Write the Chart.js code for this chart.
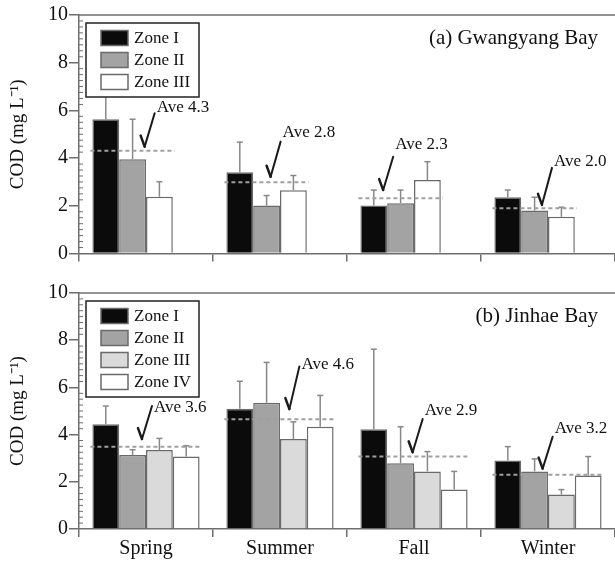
<!DOCTYPE html>
<html>
<head>
<meta charset="utf-8">
<script src="https://cdn.jsdelivr.net/npm/chart.js@4.4.1/dist/chart.umd.min.js"></script>
<style>
  body { margin: 0; background: #fff; }
  canvas { position: absolute; left: 0; }
</style>
</head>
<body>
<canvas id="chart-a" width="615" height="280" style="top:0"></canvas>
<canvas id="chart-b" width="615" height="282" style="top:280px"></canvas>
<script>
// seasons on the x axis
const seasons = ["Spring", "Summer", "Fall", "Winter"];

// (a) Gwangyang Bay - COD means and upper error (SD)
const gwang_zone1 = [5.63, 3.41, 2.01, 2.36];
const gwang_zone2 = [3.95, 2.01, 2.11, 1.80];
const gwang_zone3 = [2.38, 2.65, 3.08, 1.54];
const gwang_err1 = [0.97, 1.26, 0.65, 0.30];
const gwang_err2 = [1.68, 0.42, 0.55, 0.56];
const gwang_err3 = [0.63, 0.62, 0.77, 0.40];
const gwang_ave = [4.31, 2.99, 2.32, 1.90];
const gwang_ave_labels = ["Ave 4.3", "Ave 2.8", "Ave 2.3", "Ave 2.0"];
// check mark anchors: [offset in categories, bottom value, top value, label value]
const gwang_checks = [[-0.01, 4.48, 5.88, 6.11], [-0.07, 3.22, 4.69, 5.06], [-0.23, 2.66, 4.06, 4.55], [-0.045, 2.04, 3.59, 3.85]];

// (b) Jinhae Bay
const jinhae_zone1 = [4.44, 5.10, 4.23, 2.90];
const jinhae_zone2 = [3.14, 5.35, 2.79, 2.44];
const jinhae_zone3 = [3.35, 3.81, 2.44, 1.46];
const jinhae_zone4 = [3.07, 4.33, 1.67, 2.27];
const jinhae_err1 = [0.77, 1.16, 3.39, 0.59];
const jinhae_err2 = [0.22, 1.71, 1.54, 0.53];
const jinhae_err3 = [0.49, 0.73, 0.84, 0.21];
const jinhae_err4 = [0.46, 1.33, 0.77, 0.80];
const jinhae_ave = [3.49, 4.65, 3.07, 2.30];
const jinhae_ave_labels = ["Ave 3.6", "Ave 4.6", "Ave 2.9", "Ave 3.2"];
const jinhae_checks = [[-0.03, 3.81, 5.21, 5.13], [0.07, 5.08, 6.89, 6.97], [-0.01, 3.25, 4.66, 5.0], [-0.04, 2.56, 3.91, 4.24]];

const yTicks = [0, 2, 4, 6, 8, 10];

const serif = "'Liberation Serif', 'Times New Roman', serif";
const axisGray = "#6e6e6e";

function bar(label, data, color) {
  return {
    label: label,
    data: data,
    backgroundColor: color,
    borderColor: "#6a6a6a",
    borderWidth: 1.5,
    categoryPercentage: 0.8,
    barPercentage: 1.0,
  };
}

// error bars, average lines, legend box, check marks and panel title
const panelDecor = {
  id: "panelDecor",
  afterDatasetsDraw(chart, args, opts) {
    const ctx = chart.ctx;
    const area = chart.chartArea;
    const xs = chart.scales.x;
    const ys = chart.scales.y;
    const line = (x1, y1, x2, y2) => {
      ctx.beginPath();
      ctx.moveTo(x1, y1);
      ctx.lineTo(x2, y2);
      ctx.stroke();
    };
    ctx.save();

    // frame line on top
    ctx.strokeStyle = axisGray;
    ctx.lineWidth = 1.5;
    line(area.left, area.top, area.right, area.top);

    // minor ticks every 0.25
    ctx.lineWidth = 1;
    for (let k = 1; k < 40; k++) {
      if (k % 8 === 0) continue;
      const py = ys.getPixelForValue(k * 0.25);
      line(area.left, py, area.left + 4, py);
    }

    // error bars (upper only)
    ctx.strokeStyle = "#888";
    ctx.lineWidth = 1.5;
    opts.errors.forEach((errs, di) => {
      const meta = chart.getDatasetMeta(di);
      meta.data.forEach((b, i) => {
        const top = ys.getPixelForValue(chart.data.datasets[di].data[i] + errs[i]);
        line(b.x, b.y, b.x, top);
        line(b.x - 3, top, b.x + 3, top);
      });
    });

    // dashed average lines
    const first = chart.getDatasetMeta(0);
    const last = chart.getDatasetMeta(opts.errors.length - 1);
    ctx.setLineDash([4, 3]);
    ctx.strokeStyle = "#a0a0a0";
    ctx.lineWidth = 2;
    opts.averages.forEach((a, i) => {
      const b0 = first.data[i];
      const b1 = last.data[i];
      const py = ys.getPixelForValue(a);
      line(b0.x - b0.width / 2 - 2, py, b1.x + b1.width / 2 + 2, py);
    });
    ctx.setLineDash([]);

    // legend box
    ctx.font = "17px " + serif;
    ctx.textBaseline = "middle";
    ctx.textAlign = "left";
    const items = chart.data.datasets.filter((d) => d.label);
    const lx = area.left + 7;
    const ly = area.top + 8;
    const lw = 113;
    const lh = 30 + (items.length - 1) * 22;
    ctx.fillStyle = "#fff";
    ctx.fillRect(lx, ly, lw, lh);
    ctx.strokeStyle = "#222";
    ctx.lineWidth = 1.5;
    ctx.strokeRect(lx, ly, lw, lh);
    items.forEach((d, i) => {
      const cy = ly + 15 + i * 22;
      ctx.fillStyle = d.backgroundColor;
      ctx.fillRect(lx + 15, cy - 7.5, 27, 15);
      ctx.strokeStyle = "#6a6a6a";
      ctx.strokeRect(lx + 15, cy - 7.5, 27, 15);
      ctx.fillStyle = "#111";
      ctx.fillText(d.label, lx + 48, cy + 1);
    });

    // check marks with "Ave" labels
    const catW = xs.getPixelForValue(1) - xs.getPixelForValue(0);
    ctx.strokeStyle = "#1a1a1a";
    ctx.fillStyle = "#111";
    ctx.lineCap = "round";
    opts.checks.forEach((c, i) => {
      const bx = xs.getPixelForValue(i) + c[0] * catW;
      const by = ys.getPixelForValue(c[1]);
      const ty = ys.getPixelForValue(c[2]);
      const tx = bx + 10;
      ctx.lineWidth = 2.5;
      line(bx - 4, by - 11, bx, by);
      ctx.lineWidth = 2;
      line(bx, by, tx, ty);
      ctx.fillText(opts.aveLabels[i], tx + 2, ys.getPixelForValue(c[3]));
    });
    ctx.lineCap = "butt";

    // panel title
    ctx.font = "21px " + serif;
    ctx.textAlign = "right";
    ctx.fillText(opts.title, area.right - 17, area.top + 23);
    ctx.restore();
  },
};

function makeOptions(showLabels, padTop, xHeight, decor) {
  return {
    responsive: false,
    animation: false,
    layout: { padding: { top: padTop, left: 0, right: 0, bottom: 0 } },
    plugins: {
      legend: { display: false },
      tooltip: { enabled: false },
      panelDecor: decor,
    },
    scales: {
      x: {
        grid: {
          offset: true,
          drawOnChartArea: false,
          drawTicks: true,
          tickLength: 8,
          color: axisGray,
          lineWidth: 1.5,
        },
        border: { color: axisGray, width: 1.5 },
        ticks: {
          display: showLabels,
          padding: 0,
          color: "#111",
          font: { family: serif, size: 20, lineHeight: 1.2 },
        },
        afterFit: (s) => { s.height = xHeight; },
      },
      y: {
        min: 0,
        max: 10,
        afterBuildTicks: (s) => { s.ticks = yTicks.map((v) => ({ value: v })); },
        grid: {
          drawOnChartArea: false,
          drawTicks: true,
          tickLength: 10,
          color: axisGray,
          lineWidth: 1.5,
        },
        border: { color: axisGray, width: 1.5 },
        ticks: {
          padding: 1,
          color: "#111",
          font: { family: serif, size: 20 },
        },
        title: {
          display: true,
          text: "COD (mg L\u207B\u00B9)",
          color: "#111",
          font: { family: serif, size: 19 },
          padding: { top: 7, bottom: 0 },
        },
        afterFit: (s) => { s.width = 79; },
      },
    },
  };
}

new Chart(document.getElementById("chart-a").getContext("2d"), {
  type: "bar",
  data: {
    labels: seasons,
    datasets: [
      bar("Zone I", gwang_zone1, "#0b0b0b"),
      bar("Zone II", gwang_zone2, "#a3a3a3"),
      bar("Zone III", gwang_zone3, "#ffffff"),
      bar("", [null, null, null, null], "#ffffff"), // keeps the 4-slot layout
    ],
  },
  options: makeOptions(false, 15, 26.5, {
    errors: [gwang_err1, gwang_err2, gwang_err3],
    averages: gwang_ave,
    aveLabels: gwang_ave_labels,
    checks: gwang_checks,
    title: "(a) Gwangyang Bay",
  }),
  plugins: [panelDecor],
});

new Chart(document.getElementById("chart-b").getContext("2d"), {
  type: "bar",
  data: {
    labels: seasons,
    datasets: [
      bar("Zone I", jinhae_zone1, "#0b0b0b"),
      bar("Zone II", jinhae_zone2, "#a3a3a3"),
      bar("Zone III", jinhae_zone3, "#dadada"),
      bar("Zone IV", jinhae_zone4, "#ffffff"),
    ],
  },
  options: makeOptions(true, 11, 33, {
    errors: [jinhae_err1, jinhae_err2, jinhae_err3, jinhae_err4],
    averages: jinhae_ave,
    aveLabels: jinhae_ave_labels,
    checks: jinhae_checks,
    title: "(b) Jinhae Bay",
  }),
  plugins: [panelDecor],
});
</script>
</body>
</html>
